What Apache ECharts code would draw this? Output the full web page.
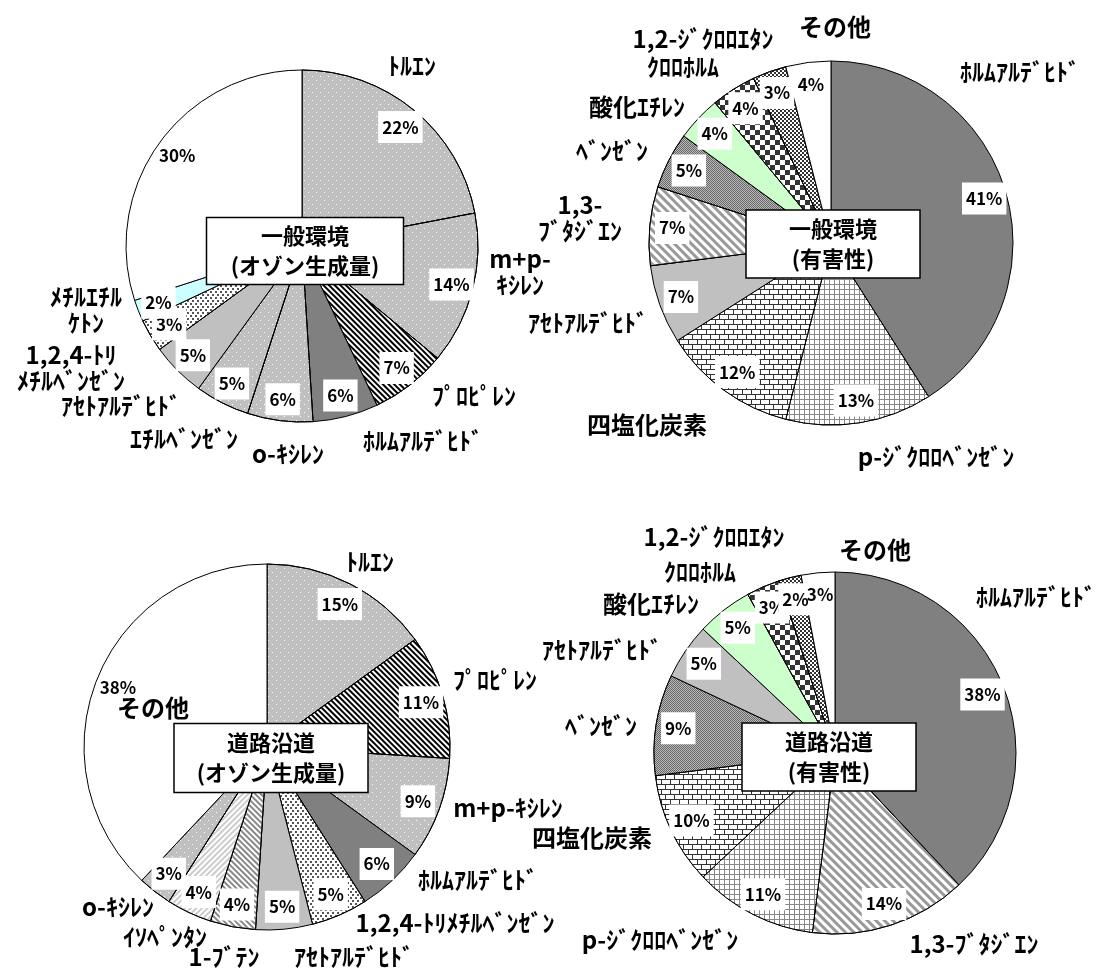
<!DOCTYPE html>
<html>
<head>
<meta charset="utf-8">
<script src="https://cdn.jsdelivr.net/npm/echarts@6/dist/echarts.min.js"></script>
<style>
html, body { margin: 0; padding: 0; background: #fff; }
#chart { width: 1109px; height: 971px; }
</style>
</head>
<body>
<div id="chart"></div>
<script>
// 一般環境（オゾン生成量）
const names1 = ['ﾄﾙｴﾝ', 'm+p-\nｷｼﾚﾝ', 'ﾌﾟﾛﾋﾟﾚﾝ', 'ﾎﾙﾑｱﾙﾃﾞﾋﾄﾞ', 'o-ｷｼﾚﾝ', 'ｴﾁﾙﾍﾞﾝｾﾞﾝ', 'ｱｾﾄｱﾙﾃﾞﾋﾄﾞ', '1,2,4-ﾄﾘ\nﾒﾁﾙﾍﾞﾝｾﾞﾝ', 'ﾒﾁﾙｴﾁﾙ\nｹﾄﾝ', 'その他'];
const values1 = [22, 14, 7, 6, 6, 5, 5, 3, 2, 30];

// 一般環境（有害性）
const names2 = ['ﾎﾙﾑｱﾙﾃﾞﾋﾄﾞ', 'p-ｼﾞｸﾛﾛﾍﾞﾝｾﾞﾝ', '四塩化炭素', 'ｱｾﾄｱﾙﾃﾞﾋﾄﾞ', '1,3-\nﾌﾞﾀｼﾞｴﾝ', 'ﾍﾞﾝｾﾞﾝ', '酸化ｴﾁﾚﾝ', 'ｸﾛﾛﾎﾙﾑ', '1,2-ｼﾞｸﾛﾛｴﾀﾝ', 'その他'];
const values2 = [41, 13, 12, 7, 7, 5, 4, 4, 3, 4];

// 道路沿道（オゾン生成量）
const names3 = ['ﾄﾙｴﾝ', 'ﾌﾟﾛﾋﾟﾚﾝ', 'm+p-ｷｼﾚﾝ', 'ﾎﾙﾑｱﾙﾃﾞﾋﾄﾞ', '1,2,4-ﾄﾘﾒﾁﾙﾍﾞﾝｾﾞﾝ', 'ｱｾﾄｱﾙﾃﾞﾋﾄﾞ', '1-ﾌﾞﾃﾝ', 'ｲｿﾍﾟﾝﾀﾝ', 'o-ｷｼﾚﾝ', 'その他'];
const values3 = [15, 11, 9, 6, 5, 5, 4, 4, 3, 38];

// 道路沿道（有害性）
const names4 = ['ﾎﾙﾑｱﾙﾃﾞﾋﾄﾞ', '1,3-ﾌﾞﾀｼﾞｴﾝ', 'p-ｼﾞｸﾛﾛﾍﾞﾝｾﾞﾝ', '四塩化炭素', 'ﾍﾞﾝｾﾞﾝ', 'ｱｾﾄｱﾙﾃﾞﾋﾄﾞ', '酸化ｴﾁﾚﾝ', 'ｸﾛﾛﾎﾙﾑ', '1,2-ｼﾞｸﾛﾛｴﾀﾝ', 'その他'];
const values4 = [38, 14, 11, 10, 9, 5, 5, 3, 2, 3];

const titles = ['一般環境\n(オゾン生成量)', '一般環境\n(有害性)', '道路沿道\n(オゾン生成量)', '道路沿道\n(有害性)'];

// 配置（ラベル位置は元の図に合わせて手で置く）
const layout = [
  { center: [302, 246], r: 176, box: [305, 251, 197, 67],
    namePos: [[412, 66], [520, 272], [474, 396], [423, 441], [288, 454], [184, 439], [121, 406], [71, 368], [86, 310], null] },
  { center: [831, 243], r: 182, box: [833, 244, 174, 68],
    namePos: [[1020, 72], [936, 457], [647, 425], [588, 323], [580, 218], [612, 151], [637, 107], [683, 67], [703, 39], [835, 27]] },
  { center: [267, 747], r: 183, box: [271, 758, 194, 69],
    namePos: [[370, 562], [495, 680], [508, 808], [478, 880], [455, 923], [354, 957], [224, 957], [165, 937], [118, 907], [153, 708]] },
  { center: [835, 753], r: 181, box: [829, 757, 174, 68],
    namePos: [[1036, 597], [974, 944], [660, 940], [592, 838], [601, 726], [602, 650], [651, 604], [700, 572], [714, 537], [875, 550]] }
];

const FONT = '"Noto Sans CJK JP", "Noto Sans", sans-serif';

// 塗りパターン
const dotGrey = { color: '#c0c0c0', decal: { symbol: 'rect', color: '#fff', dashArrayX: [[1, 7], [0, 4, 1, 3]], dashArrayY: [1, 3] } };
const dotBlack = { color: '#fff', decal: { symbol: 'rect', color: '#555', dashArrayX: [[2, 3], [0, 2, 2, 1]], dashArrayY: [2, 1] } };
const stripeBlack = { color: '#fff', decal: { symbol: 'rect', color: '#000', dashArrayX: [1, 0], dashArrayY: [2, 2], rotation: Math.PI / 4 } };
const stripeGrey = { color: '#fff', decal: { symbol: 'rect', color: '#888', dashArrayX: [1, 0], dashArrayY: [2, 2], rotation: Math.PI / 4 } };
const stripeWide = { color: '#fff', decal: { symbol: 'rect', color: '#999', dashArrayX: [1, 0], dashArrayY: [3, 3], rotation: Math.PI / 4 } };
const stripeLight = { color: '#fff', decal: { symbol: 'rect', color: '#ccc', dashArrayX: [1, 0], dashArrayY: [2, 2], rotation: -Math.PI / 4 } };
const grid = { color: '#888', decal: { symbol: 'rect', color: '#fff', dashArrayX: [4, 1], dashArrayY: [4, 1] } };
const brick = { color: '#333', decal: { symbol: 'rect', color: '#fff', dashArrayX: [[8, 1], [4, 1, 4, 0]], dashArrayY: [4, 1] } };
const benzene = { color: '#666', decal: { symbol: 'rect', color: '#bbb', dashArrayX: [[1, 1], [0, 1, 1, 0]], dashArrayY: [1, 0] } };
const checker = { color: '#fff', decal: { symbol: 'rect', color: '#333', dashArrayX: [[5, 5], [0, 5, 5, 0]], dashArrayY: [5, 0] } };
const checkerFine = { color: '#fff', decal: { symbol: 'rect', color: '#333', dashArrayX: [[2, 2], [0, 2, 2, 0]], dashArrayY: [2, 0] } };

const fills = {
  'ﾄﾙｴﾝ': dotGrey,
  'm+p-ｷｼﾚﾝ': dotGrey,
  'ﾌﾟﾛﾋﾟﾚﾝ': stripeBlack,
  'ﾎﾙﾑｱﾙﾃﾞﾋﾄﾞ': { color: '#808080' },
  'o-ｷｼﾚﾝ': dotGrey,
  'ｴﾁﾙﾍﾞﾝｾﾞﾝ': dotGrey,
  'ｱｾﾄｱﾙﾃﾞﾋﾄﾞ': { color: '#c0c0c0' },
  '1,2,4-ﾄﾘﾒﾁﾙﾍﾞﾝｾﾞﾝ': dotBlack,
  'ﾒﾁﾙｴﾁﾙｹﾄﾝ': { color: '#ccffff' },
  'その他': { color: '#fff' },
  'p-ｼﾞｸﾛﾛﾍﾞﾝｾﾞﾝ': grid,
  '四塩化炭素': brick,
  '1,3-ﾌﾞﾀｼﾞｴﾝ': stripeWide,
  'ﾍﾞﾝｾﾞﾝ': benzene,
  '酸化ｴﾁﾚﾝ': { color: '#ccffcc' },
  'ｸﾛﾛﾎﾙﾑ': checker,
  '1,2-ｼﾞｸﾛﾛｴﾀﾝ': checkerFine,
  'ｲｿﾍﾟﾝﾀﾝ': stripeLight,
  '1-ﾌﾞﾃﾝ': stripeGrey
};

function pieSeries(names, values, lay) {
  const data = names.map((n, i) => ({
    name: n,
    value: values[i],
    itemStyle: Object.assign({ borderColor: '#000', borderWidth: 1 }, fills[n.replace('\n', '')]),
    label: { show: lay.namePos[i] != null }
  }));
  return [{
    type: 'pie',
    center: lay.center,
    radius: lay.r,
    startAngle: 90,
    clockwise: true,
    silent: true,
    avoidLabelOverlap: false,
    data: data,
    label: {
      position: 'outside', formatter: '{b}', color: '#000',
      fontFamily: FONT, fontWeight: 'bold', fontSize: 24, lineHeight: 26
    },
    labelLine: { show: false },
    labelLayout: p => {
      const xy = lay.namePos[p.dataIndex];
      return xy ? { x: xy[0], y: xy[1], align: 'center', verticalAlign: 'middle', hideOverlap: false } : {};
    },
    emphasis: { disabled: true }
  }, {
    // 値ラベル用の透明リング
    type: 'pie',
    center: lay.center,
    radius: [lay.r * 0.72, lay.r],
    startAngle: 90,
    clockwise: true,
    silent: true,
    avoidLabelOverlap: false,
    data: names.map((n, i) => ({
      name: n,
      value: values[i],
      label: n === 'その他' ? { backgroundColor: 'transparent' } : {}
    })),
    itemStyle: { color: 'rgba(0,0,0,0)', borderWidth: 0 },
    label: {
      position: 'inside',
      formatter: p => Math.round(p.percent) + '%',
      color: '#000', backgroundColor: '#fff', padding: [7, 4],
      fontFamily: FONT, fontWeight: 'bold', fontSize: 17, lineHeight: 18
    },
    labelLine: { show: false },
    labelLayout: { hideOverlap: false, moveOverlap: null },
    emphasis: { disabled: true }
  }];
}

const chart = echarts.init(document.getElementById('chart'));
const boxes = [];
layout.forEach((lay, i) => {
  const [cx, cy, w, h] = lay.box;
  boxes.push({
    type: 'rect', z: 100, silent: true,
    shape: { x: cx - w / 2, y: cy - h / 2, width: w, height: h },
    style: { fill: '#fff', stroke: '#000', lineWidth: 1.5 }
  });
  boxes.push({
    type: 'text', z: 101, silent: true, x: cx, y: cy,
    style: {
      text: titles[i], align: 'center', verticalAlign: 'middle',
      font: 'bold 22px ' + FONT, lineHeight: 30, fill: '#000'
    }
  });
});

chart.setOption({
  animation: false,
  backgroundColor: '#fff',
  series: [].concat(
    pieSeries(names1, values1, layout[0]),
    pieSeries(names2, values2, layout[1]),
    pieSeries(names3, values3, layout[2]),
    pieSeries(names4, values4, layout[3])
  ),
  graphic: { elements: boxes }
});
</script>
</body>
</html>
